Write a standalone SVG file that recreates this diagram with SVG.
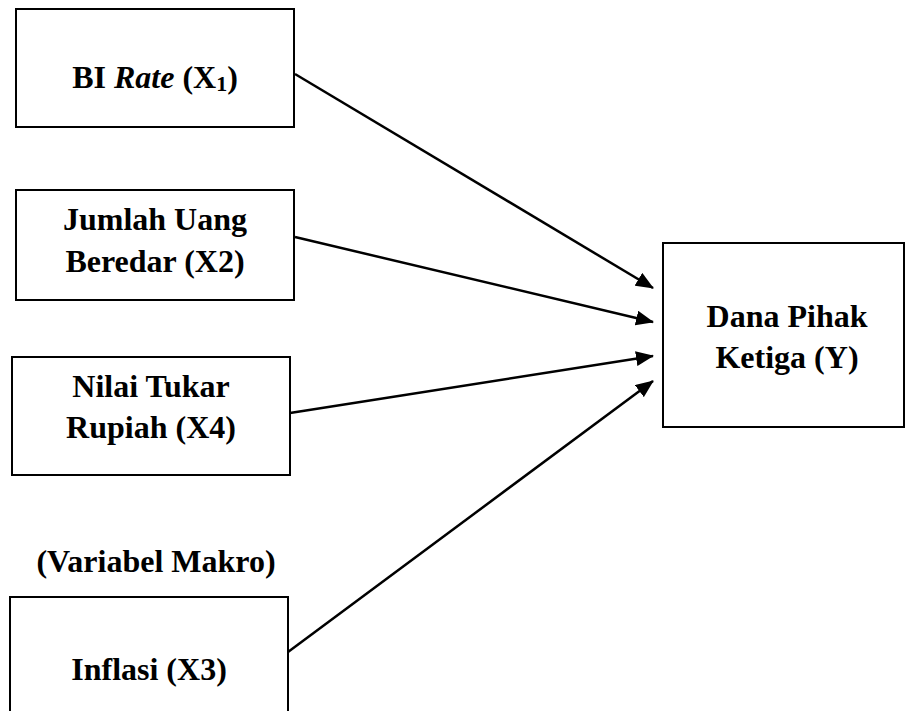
<svg xmlns="http://www.w3.org/2000/svg" width="906" height="711" viewBox="0 0 906 711">
<style>
.box{fill:#fff;stroke:#000;stroke-width:2}
.t{font-family:"Liberation Serif","Times New Roman",serif;font-weight:bold;font-size:32px;fill:#000;text-anchor:middle}
.c{stroke:#000;stroke-width:2.5;fill:none;marker-end:url(#ah)}
</style>
<defs>
<marker id="ah" markerUnits="userSpaceOnUse" markerWidth="18" markerHeight="15" refX="17" refY="7.5" orient="auto">
<path d="M0,0 L18,7.5 L0,15 z" fill="#000"/>
</marker>
</defs>
<rect width="906" height="711" fill="#fff"/>
<g id="connectors">
<line class="c" x1="295" y1="74" x2="653" y2="288"/>
<line class="c" x1="295" y1="237" x2="653" y2="322"/>
<line class="c" x1="290" y1="413" x2="653" y2="356"/>
<line class="c" x1="288" y1="652" x2="653" y2="381"/>
</g>
<g id="x1">
<rect class="box" x="16" y="9" width="278" height="118"/>
<text class="t" x="155" y="88">BI <tspan font-style="italic">Rate</tspan> (X<tspan font-size="22" dy="3">1</tspan><tspan dy="-3">)</tspan></text>
</g>
<g id="x2">
<rect class="box" x="16" y="190" width="278" height="110"/>
<text class="t" x="155" y="230">Jumlah Uang</text>
<text class="t" x="155" y="272">Beredar (X2)</text>
</g>
<g id="x4">
<rect class="box" x="12" y="357" width="278" height="118"/>
<text class="t" x="151" y="397">Nilai Tukar</text>
<text class="t" x="151" y="438">Rupiah (X4)</text>
</g>
<g id="label-makro">
<text class="t" x="156" y="572">(Variabel Makro)</text>
</g>
<g id="x3">
<rect class="box" x="10" y="597" width="278" height="130"/>
<text class="t" x="149" y="680">Inflasi (X3)</text>
</g>
<g id="y">
<rect class="box" x="663" y="243" width="241" height="184"/>
<text class="t" x="787" y="327">Dana Pihak</text>
<text class="t" x="787" y="368">Ketiga (Y)</text>
</g>
</svg>
